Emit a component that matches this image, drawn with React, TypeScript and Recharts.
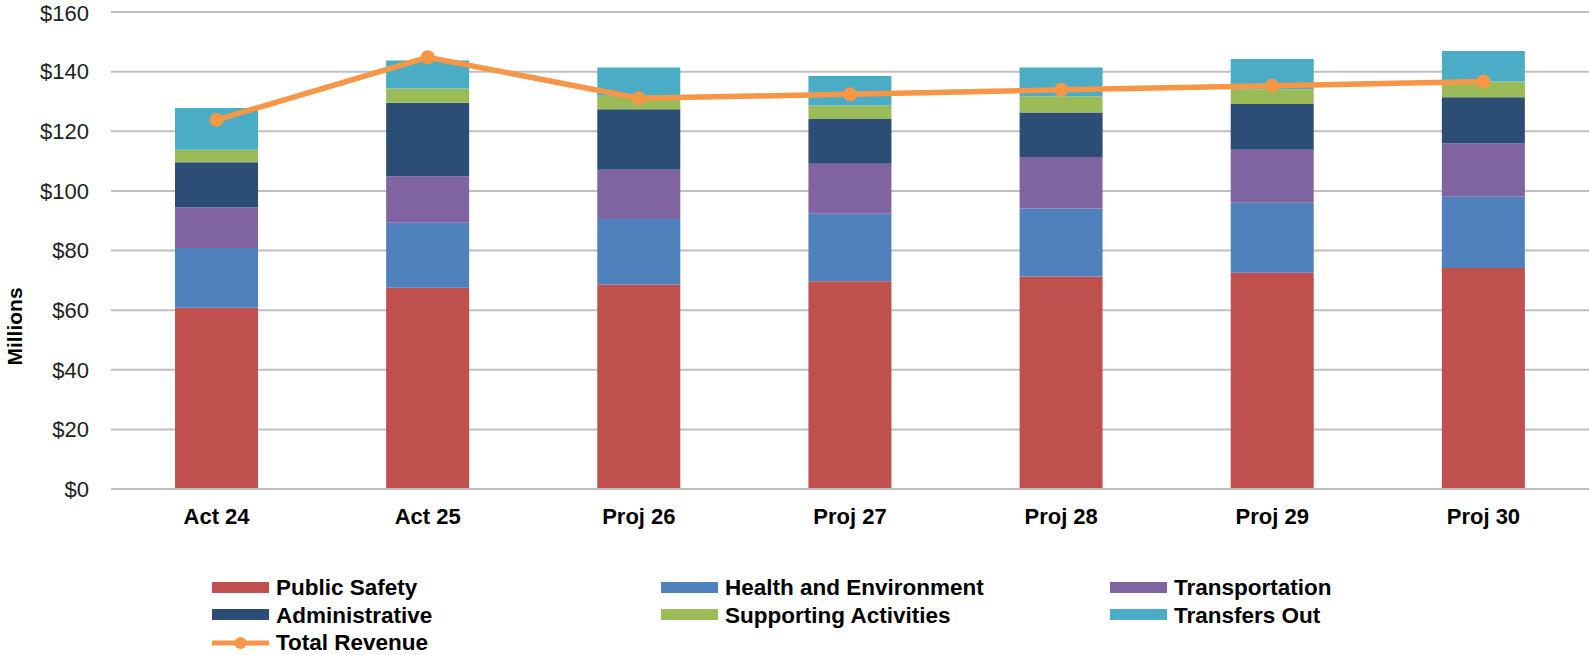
import React from "react";
import { ComposedChart, Bar, Line, XAxis, YAxis, CartesianGrid, Label } from "recharts";

const categories = ["Act 24", "Act 25", "Proj 26", "Proj 27", "Proj 28", "Proj 29", "Proj 30"];

const publicSafety = [60.8, 67.5, 68.6, 69.7, 71.3, 72.5, 74.1];
const healthEnv = [20.0, 21.8, 22.0, 22.6, 22.8, 23.5, 23.9];
const transportation = [13.7, 15.6, 16.5, 16.8, 17.3, 17.8, 18.0];
const administrative = [15.1, 24.7, 20.3, 15.0, 14.9, 15.3, 15.4];
const supporting = [4.2, 4.7, 4.5, 4.5, 5.4, 5.0, 5.3];
const transfersOut = [14.0, 9.4, 9.5, 9.9, 9.7, 10.1, 10.2];
const totalRevenue = [123.8, 144.8, 131.1, 132.4, 133.9, 135.3, 136.7];

const yTicks = [0, 20, 40, 60, 80, 100, 120, 140, 160];

const barSeries = [
  { key: "publicSafety", name: "Public Safety", color: "#C0504D", values: publicSafety },
  { key: "healthEnv", name: "Health and Environment", color: "#4F81BD", values: healthEnv },
  { key: "transportation", name: "Transportation", color: "#8064A2", values: transportation },
  { key: "administrative", name: "Administrative", color: "#2C4D75", values: administrative },
  { key: "supporting", name: "Supporting Activities", color: "#9BBB59", values: supporting },
  { key: "transfersOut", name: "Transfers Out", color: "#4BACC6", values: transfersOut },
];
const lineSeries = { key: "totalRevenue", name: "Total Revenue", color: "#F79646", values: totalRevenue };

const data = categories.map((c, i) => {
  const row: Record<string, string | number> = { category: c };
  barSeries.forEach((s) => (row[s.key] = s.values[i]));
  row[lineSeries.key] = lineSeries.values[i];
  return row;
});

const FONT = "'Liberation Sans', Arial, sans-serif";

const LegendBlock = () => {
  const items = [...barSeries.map((s) => ({ ...s, line: false })), { ...lineSeries, line: true }];
  return (
    <div
      style={{
        position: "absolute",
        left: 212,
        top: 574,
        display: "grid",
        gridTemplateColumns: "449px 449px 449px",
        fontFamily: FONT,
        fontWeight: "bold",
        fontSize: 22.5,
        lineHeight: "27.5px",
        color: "#000",
      }}
    >
      {items.map((it) => (
        <div key={it.key} style={{ display: "flex", alignItems: "center", height: 27.5 }}>
          <svg width={57} height={16} style={{ marginRight: 7 }}>
            {it.line ? (
              <g>
                <line x1={0} y1={8} x2={57} y2={8} stroke={it.color} strokeWidth={5} />
                <circle cx={28.5} cy={8} r={6} fill={it.color} />
              </g>
            ) : (
              <rect x={0} y={2} width={57} height={11} fill={it.color} />
            )}
          </svg>
          <span>{it.name}</span>
        </div>
      ))}
    </div>
  );
};

export default function App() {
  return (
    <div style={{ position: "absolute", left: 0, top: 0, width: 1589, height: 655, background: "#fff" }}>
      <ComposedChart
        width={1589}
        height={540}
        data={data}
        margin={{ top: 12, right: 0, left: 0, bottom: 0 }}
      >
        <CartesianGrid vertical={false} stroke="#BFBFBF" strokeWidth={2} />
        <XAxis
          dataKey="category"
          height={51}
          axisLine={{ stroke: "#BFBFBF", strokeWidth: 2 }}
          tickLine={false}
          tickSize={0}
          tickMargin={19}
          tick={{ fill: "#000", fontFamily: FONT, fontWeight: "bold", fontSize: 22 }}
        />
        <YAxis
          width={111}
          domain={[0, 160]}
          ticks={yTicks}
          axisLine={false}
          tickLine={false}
          tickSize={0}
          tickMargin={22}
          tickFormatter={(v: number) => `$${v}`}
          tick={{ fill: "#222", fontFamily: FONT, fontSize: 22 }}
        >
          <Label
            content={({ viewBox }: any) => {
              const x = viewBox.x + 14;
              const y = viewBox.y + viewBox.height / 2 + 76;
              return (
                <text
                  x={x}
                  y={y}
                  transform={`rotate(-90 ${x} ${y})`}
                  textAnchor="middle"
                  dominantBaseline="central"
                  fontFamily={FONT}
                  fontWeight="bold"
                  fontSize={21}
                  fill="#000"
                >
                  Millions
                </text>
              );
            }}
          />
        </YAxis>
        {barSeries.map((s) => (
          <Bar
            key={s.key}
            dataKey={s.key}
            name={s.name}
            stackId="a"
            fill={s.color}
            barSize={83}
            isAnimationActive={false}
          />
        ))}
        <Line
          type="linear"
          dataKey={lineSeries.key}
          name={lineSeries.name}
          stroke={lineSeries.color}
          strokeWidth={5.5}
          dot={{ r: 7, fill: lineSeries.color, stroke: lineSeries.color, strokeWidth: 0 }}
          activeDot={false}
          isAnimationActive={false}
        />
      </ComposedChart>
      <LegendBlock />
    </div>
  );
}
